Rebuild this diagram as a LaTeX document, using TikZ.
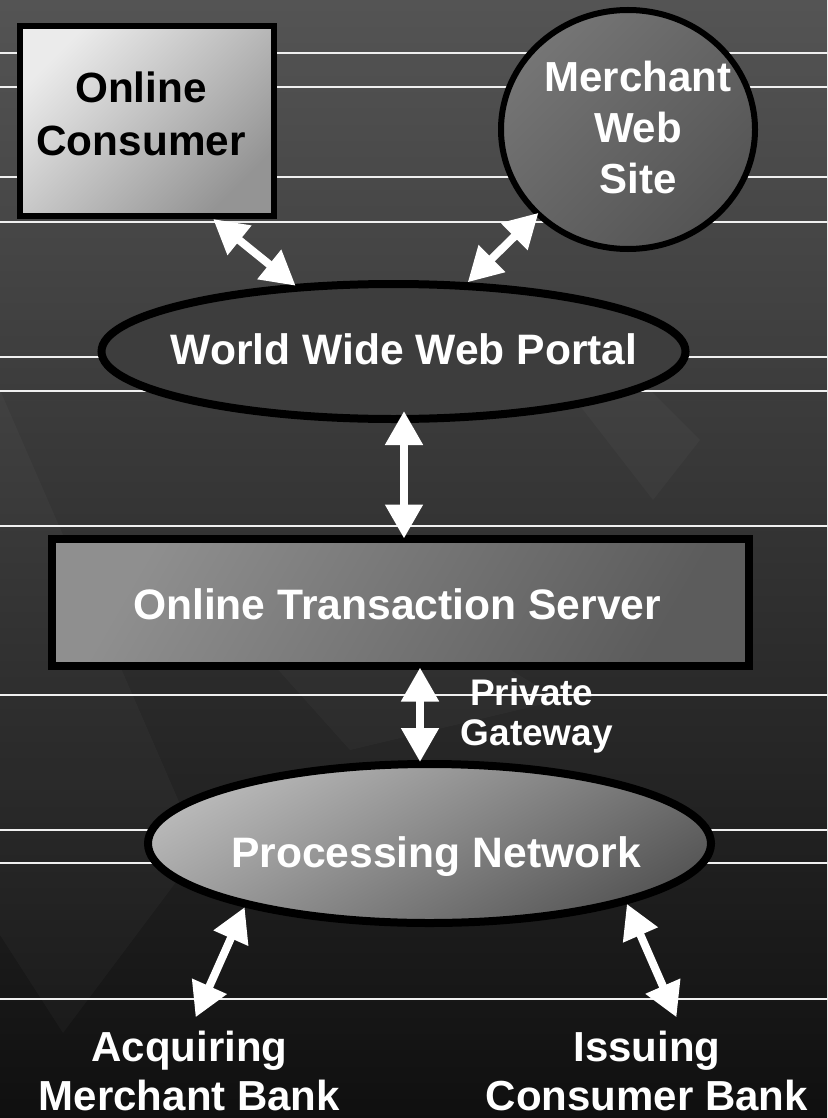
\documentclass[tikz,border=0pt]{standalone}
\usepackage{fontspec}
\setmainfont{Liberation Sans}
\usetikzlibrary{arrows.meta,shapes.geometric}

\tikzset{
  shapebox/.style={draw=black, inner sep=0pt},
  oval/.style={shapebox, ellipse},
  lbl/.style={inner sep=0pt, anchor=north, align=center, text=white,
    font=\fontsize{42.6pt}{51pt}\selectfont\bfseries},
  link/.style={draw=white, line width=8pt,
    {Triangle[length=34pt,width=36pt]}-{Triangle[length=34pt,width=36pt]}},
  hline/.style={draw=white!94!black, line width=1.3pt},
  chev/.style={fill=white, fill opacity=0.028},
}

\begin{document}
\begin{tikzpicture}[x=1pt,y=-1pt]
  \useasboundingbox (0,0) rectangle (827,1118);
  % backdrop
  \shade[top color=black!67, bottom color=black!94] (0,0) rectangle (827,1118);
  \fill[chev] (0,390) -- (200,850) -- (63,1033) -- (0,935) -- cycle;
  \fill[chev] (180,560) -- (330,560) -- (560,700) -- (350,750) -- cycle;
  \fill[chev] (560,380) -- (640,380) -- (700,440) -- (653,500) -- cycle;
  \foreach \y in {53,87,177,222,357,391,526,695,830,863,999}
    \draw[hline] (0,\y) -- (827,\y);

  % shapes
  \node[shapebox, line width=6pt, minimum width=254pt, minimum height=190pt,
        top color=black!8, bottom color=black!42, shading angle=45] (consumer) at (147,121) {};
  \node[oval, line width=6pt, minimum width=254pt, minimum height=239pt,
        left color=black!54, right color=black!67, shading angle=45] (merchant) at (628,129.5) {};
  \node[oval, line width=8pt, minimum width=584pt, minimum height=135pt,
        fill=black!76] (portal) at (393.5,351.5) {};
  \node[shapebox, line width=8pt, minimum width=697pt, minimum height=127pt,
        left color=black!44, right color=black!64, shading angle=60] (server) at (400.5,602.5) {};
  \node[oval, line width=8pt, minimum width=563pt, minimum height=159pt,
        top color=black!28, bottom color=black!66, shading angle=30] (network) at (429.5,843.5) {};

  % texts
  \node[lbl, text=black, font=\fontsize{42.3pt}{53pt}\selectfont\bfseries] (consumertxt) at (141,71.5) {Online\\Consumer};
  \node[lbl, font=\fontsize{42pt}{51pt}\selectfont\bfseries] (merchanttxt) at (638,61) {Merchant\\Web\\Site};
  \node[lbl] (portaltxt) at (404,333) {World Wide Web Portal};
  \node[lbl] (servertxt) at (397,588.4) {Online Transaction Server};
  \node[lbl] (networktxt) at (436,836.7) {Processing Network};
  \node[lbl, font=\fontsize{37pt}{40pt}\selectfont\bfseries] (gateway) at (536.8,678.5) {Private\kern10pt\\Gateway};
  \node[lbl, font=\fontsize{42pt}{49pt}\selectfont\bfseries] (acquirer) at (189.5,1031) {Acquiring\\Merchant Bank};
  \node[lbl, font=\fontsize{42pt}{49pt}\selectfont\bfseries] (issuer) at (647,1031) {Issuing\\Consumer Bank};

  % links
  \draw[link, shorten >=-2.5pt] (consumer.-56) -- (portal.146);
  \draw[link, shorten <=-4pt] (merchant.223) -- (portal.43);
  \draw[link, shorten <=-12pt, shorten >=-3.5pt] ([xshift=10.5pt]portal.south) -- ([xshift=3.5pt]server.north);
  \draw[link, shorten <=-2.5pt, shorten >=-2pt] ([xshift=19.5pt]server.south) -- ([xshift=-9.5pt]network.north);
  \draw[link, shorten >=15pt] (network.199) -- (acquirer.north);
  \draw[link, shorten >=15pt] (network.-17.7) -- ([xshift=35.5pt]issuer.north);
\end{tikzpicture}
\end{document}
